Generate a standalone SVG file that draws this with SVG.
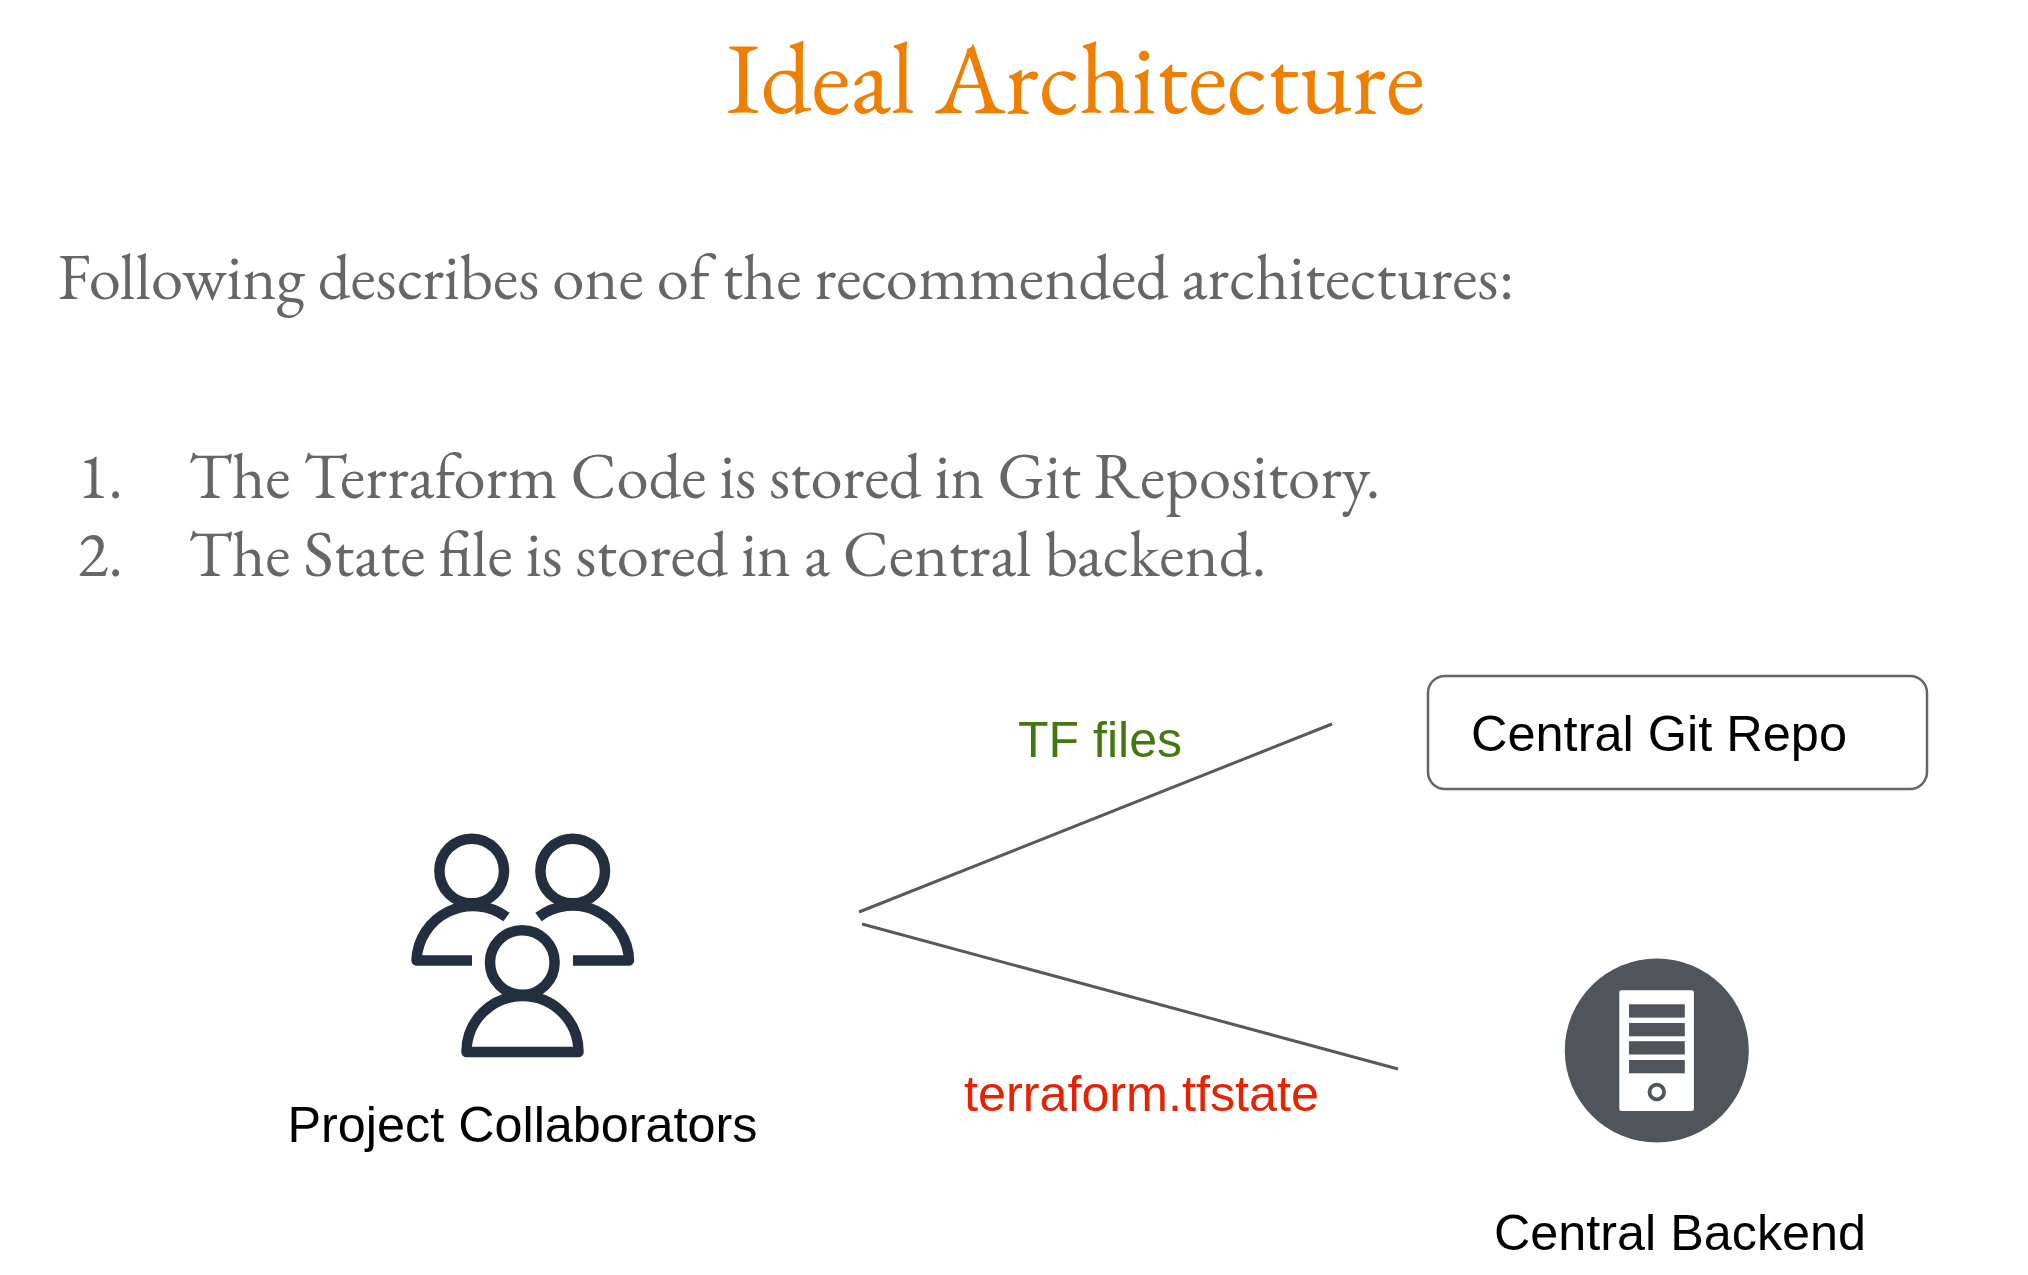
<svg xmlns="http://www.w3.org/2000/svg" width="2028" height="1275" viewBox="0 0 2028 1275">
<style>
.s{font-family:"EB Garamond","Liberation Serif",serif;fill:#666666;font-size:64px}
.a{font-family:"Liberation Sans",Arial,sans-serif;font-size:50px;fill:#000}
.c{fill:none;stroke:#595959;stroke-width:3}
.p{fill:none;stroke:#232f3e;stroke-width:10.5}
.b{fill:#50555b}
</style>
<rect width="2028" height="1275" fill="#fff"/>
<text id="title" x="726" y="113" font-size="100" textLength="699" lengthAdjust="spacingAndGlyphs" style="font-family:'EB Garamond','Liberation Serif',serif;fill:#ee7f00">Ideal Architecture</text>
<text class="s" x="57.5" y="299" textLength="1457" lengthAdjust="spacingAndGlyphs">Following describes one of the recommended architectures:</text>
<text class="s" x="77.5" y="497.5">1.</text>
<text class="s" x="188.5" y="497.5" textLength="1192" lengthAdjust="spacingAndGlyphs">The Terraform Code is stored in Git Repository.</text>
<text class="s" x="77.5" y="576">2.</text>
<text class="s" x="188.5" y="576" textLength="1078" lengthAdjust="spacingAndGlyphs">The State file is stored in a Central backend.</text>
<g id="connectors">
<line class="c" x1="859" y1="912" x2="1332" y2="724"/>
<line class="c" x1="862" y1="924" x2="1398" y2="1069"/>
</g>
<g id="collaborators">
<g class="p">
<circle cx="471.7" cy="871" r="32.3"/><circle cx="572.7" cy="871" r="32.3"/><circle cx="522.3" cy="962.5" r="32.3"/>
<path d="M506.5 917A56.5 56.5 0 0 0 416.5 960.5H472" stroke-linejoin="round"/>
<path d="M538.5 917A56.5 56.5 0 0 1 629 960.5H573" stroke-linejoin="round"/>
<path d="M466.5 1052A56 56 0 0 1 578.5 1052Z" stroke-linejoin="round"/>
</g>
<text class="a" x="287.5" y="1142" textLength="470" lengthAdjust="spacingAndGlyphs">Project Collaborators</text>
</g>
<g id="git-repo">
<rect x="1428" y="676" width="499" height="113" rx="17" fill="#fff" stroke="#666" stroke-width="2.5"/>
<text class="a" x="1471" y="751" textLength="376" lengthAdjust="spacingAndGlyphs">Central Git Repo</text>
</g>
<g id="backend">
<circle class="b" cx="1656.8" cy="1050.5" r="92"/>
<rect x="1619.3" y="990.2" width="74.6" height="120.8" rx="2" fill="#fff"/>
<rect class="b" x="1629" y="1004.3" width="55.8" height="13.3"/><rect class="b" x="1629" y="1023" width="55.8" height="13.3"/><rect class="b" x="1629" y="1041.2" width="55.8" height="13.3"/><rect class="b" x="1629" y="1060" width="55.8" height="13.3"/>
<circle cx="1656.8" cy="1092" r="7.3" fill="none" stroke="#50555b" stroke-width="3.8"/>
<text class="a" x="1494" y="1250" textLength="372" lengthAdjust="spacingAndGlyphs">Central Backend</text>
</g>
<text id="tf-files" x="1018" y="756.5" textLength="164" lengthAdjust="spacingAndGlyphs" style="font-family:'Liberation Sans',Arial,sans-serif;font-size:50px;fill:#45770f">TF files</text>
<text id="tfstate" x="964" y="1111" textLength="355" lengthAdjust="spacingAndGlyphs" style="font-family:'Liberation Sans',Arial,sans-serif;font-size:50px;fill:#e62200">terraform.tfstate</text>
</svg>
